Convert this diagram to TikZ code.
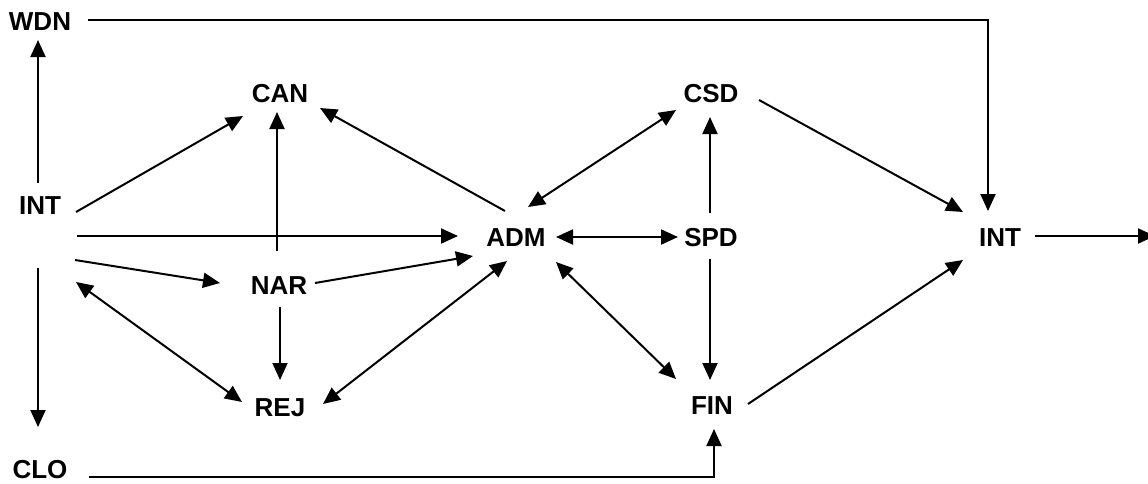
\documentclass[tikz,border=0pt]{standalone}
\usepackage{fontspec}
\setmainfont{Liberation Sans}
\usetikzlibrary{arrows.meta,calc}
\begin{document}
\begin{tikzpicture}[x=1pt,y=-1pt,
  lbl/.style={inner sep=0pt,font=\fontsize{26}{30}\selectfont\bfseries},
  tip/.tip={Triangle[length=17pt,width=15pt]},
  arr/.style={line width=2pt,-tip},
  darr/.style={line width=2pt,tip-tip}]
\useasboundingbox[fill=white] (0,0) rectangle (1148,483);
\node[lbl] (wdn) at (40,22) {WDN};
\node[lbl] (intL) at (40,206) {INT};
\node[lbl] (can) at (280,94) {CAN};
\node[lbl] (nar) at (279,286) {NAR};
\node[lbl] (rej) at (280,408) {REJ};
\node[lbl] (clo) at (40,470) {CLO};
\node[lbl] (adm) at (516,238) {ADM};
\node[lbl] (spd) at (711,238) {SPD};
\node[lbl] (csd) at (711,94) {CSD};
\node[lbl] (fin) at (712,406) {FIN};
\node[lbl] (intR) at (1000,238) {INT};
\coordinate (out) at (1155,236);

\draw[arr] ($(intL)+(-2,-23)$) -- ($(wdn)+(-2,18)$);
\draw[arr] ($(wdn)+(48,-2)$) -| ($(intR)+(-12,-27)$);
\draw[arr] ($(intL)+(36,6)$) -- ($(can)+(-37,22)$);
\draw[arr] ($(nar)+(-2,-35)$) -- ($(can)+(-3,18)$);
\draw[arr] ($(adm)+(-11,-27)$) -- ($(can)+(40,14)$);
\draw[arr] ($(intL)+(37,30)$) -- ($(adm)+(-58,-2)$);
\draw[arr] ($(intL)+(35,54)$) -- ($(nar)+(-59,-3)$);
\draw[arr] ($(nar)+(36,-3)$) -- ($(adm)+(-43,18)$);
\draw[darr] ($(intL)+(36,76)$) -- ($(rej)+(-38,-6)$);
\draw[arr] ($(nar)+(1,21)$) -- ($(rej)+(0,-28)$);
\draw[darr] ($(adm)+(-9,23)$) -- ($(rej)+(43,-4)$);
\draw[darr] ($(adm)+(12,-31)$) -- ($(csd)+(-35,16)$);
\draw[darr] ($(adm)+(40,-1)$) -- ($(spd)+(-33,-1)$);
\draw[darr] ($(adm)+(40,24)$) -- ($(fin)+(-36,-27)$);
\draw[arr] ($(spd)+(-1,-25)$) -- ($(csd)+(-1,23)$);
\draw[arr] ($(spd)+(-1,21)$) -- ($(fin)+(-2,-26)$);
\draw[arr] ($(csd)+(48,6)$) -- ($(intR)+(-37,-26)$);
\draw[arr] ($(fin)+(36,-2)$) -- ($(intR)+(-37,22)$);
\draw[arr] ($(intR)+(35,-2)$) -- (out);
\draw[arr] ($(intL)+(-2,62)$) -- ($(clo)+(-2,-43)$);
\draw[arr] ($(clo)+(49,7)$) -| ($(fin)+(2,23)$);
\end{tikzpicture}
\end{document}
